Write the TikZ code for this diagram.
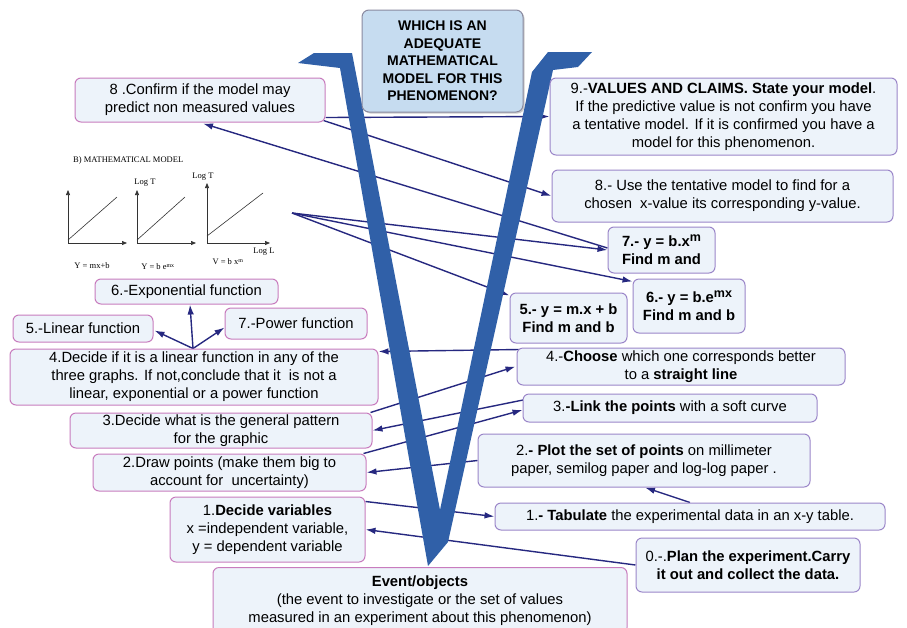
\documentclass[tikz,border=0pt]{standalone}
\usepackage{fontspec}
\setmainfont{Liberation Sans}
\newfontfamily\graphserif{Liberation Serif}
\usetikzlibrary{arrows.meta,calc,shadows}
\pgfdeclarelayer{connlayer}
\pgfdeclarelayer{vlayer}
\pgfsetlayers{connlayer,vlayer,main}
\definecolor{navy}{RGB}{38,40,128}
\definecolor{vblue}{RGB}{48,96,168}
\definecolor{boxfill}{RGB}{237,243,250}
\definecolor{lborder}{RGB}{200,124,190}
\definecolor{rborder}{RGB}{155,134,201}
\definecolor{qfill}{RGB}{198,220,240}
\definecolor{qborder}{RGB}{138,138,160}
\newcommand\bodytext{\fontsize{14.8}{18}\selectfont}
\newcommand\gtext{\graphserif\fontsize{8.5}{9}\selectfont}
\newcommand\supm[1]{\raisebox{5pt}{\fontsize{12.5}{12.5}\selectfont #1}}
\tikzset{
  basebox/.style={fill=boxfill, rounded corners=6pt, line width=1pt, inner sep=0pt, align=center, font=\bodytext},
  lbox/.style={basebox, draw=lborder},
  rbox/.style={basebox, draw=rborder},
  qbox/.style={draw=qborder, fill=qfill, rounded corners=7pt, line width=1pt, inner sep=0pt, align=center,
    font=\fontsize{14}{17.5}\selectfont\bfseries, drop shadow={shadow xshift=1.5pt, shadow yshift=-1.5pt, opacity=0.4}},
  conn/.style={draw=navy, line width=1.4pt, -{Latex[length=10pt,width=6.5pt]}},
  axis/.style={draw=black!80, line width=0.7pt, -{Triangle[length=5pt,width=4pt]}},
  gline/.style={draw=black!80, line width=0.6pt},
  glabel/.style={font=\gtext, inner sep=0pt}
}
\begin{document}
\begin{tikzpicture}[x=1pt,y=-1pt]
\useasboundingbox (0,0) rectangle (907,627);
\clip (0,0) rectangle (907,627);

% ---- boxes ----
\node[qbox, minimum width=161pt, minimum height=102pt] (Q) at (442.5,61) {WHICH IS AN\\ADEQUATE\\MATHEMATICAL\\MODEL FOR THIS\\PHENOMENON?};
\node[lbox, minimum width=250pt, minimum height=44pt] (B8L) at (200,100) {8 .Confirm if the model may\\predict non measured values};
\node[rbox, minimum width=347pt, minimum height=77pt] (B9R) at (723.5,116.5) {9.-\textbf{VALUES AND CLAIMS. State your model}.\\ If the predictive value is not confirm you have\\a tentative model. If it is confirmed you have a\\model for this phenomenon.};
\node[rbox, minimum width=341pt, minimum height=52pt] (B8R) at (722.5,196) {8.- Use the tentative model to find for a\\chosen\ \ x-value its corresponding y-value.};
\node[rbox, minimum width=107pt, minimum height=46pt, font=\bodytext\bfseries] (B7R) at (661.5,250) {7.- y = b.x\supm{m}\\Find m and};
\node[rbox, minimum width=112pt, minimum height=54pt, font=\bodytext\bfseries] (B6R) at (689,306) {6.- y = b.e\supm{mx}\\Find m and b};
\node[rbox, minimum width=117pt, minimum height=50pt, font=\bodytext\bfseries] (B5R) at (568.5,318) {5.- y = m.x + b\\Find m and b};
\node[lbox, minimum width=183pt, minimum height=25pt] (B6L) at (186.5,291.5) {6.-Exponential function};
\node[lbox, minimum width=140pt, minimum height=27pt] (B5L) at (83,328.5) {5.-Linear function};
\node[lbox, minimum width=142pt, minimum height=31pt] (B7L) at (296,323.5) {7.-Power function};
\node[lbox, minimum width=368pt, minimum height=56pt] (B4L) at (194,377) {4.Decide if it is a linear function in any of the\\three graphs. If not,conclude that it\ \ is not a\\linear, exponential or a power function};
\node[rbox, minimum width=328pt, minimum height=37pt] (B4R) at (681,366.5) {4.-\textbf{Choose} which one corresponds better\\to a \textbf{straight line}};
\node[rbox, minimum width=294pt, minimum height=28pt] (B3R) at (670,408) {3.\textbf{-Link the points} with a soft curve};
\node[rbox, minimum width=332pt, minimum height=53pt] (B2R) at (644,460.5) {2.\textbf{- Plot the set of points} on millimeter\\paper, semilog paper and log-log paper .};
\node[rbox, minimum width=390pt, minimum height=27pt] (B1R) at (690,516.5) {1.\textbf{- Tabulate} the experimental data in an x-y table.};
\node[rbox, minimum width=224pt, minimum height=54pt] (B0R) at (748,565) {0.-.\textbf{Plan the experiment.Carry}\\\textbf{it out and collect the data.}};
\node[lbox, minimum width=302pt, minimum height=35pt] (B3L) at (221,430.5) {3.Decide what is the general pattern\\for the graphic};
\node[lbox, minimum width=273pt, minimum height=37pt] (B2L) at (229.5,472.5) {2.Draw points (make them big to\\account for\ \ uncertainty)};
\node[lbox, minimum width=195pt, minimum height=65pt] (B1L) at (267.5,529.5) {1.\textbf{Decide variables}\\x =independent variable,\\y = dependent variable};
\node[lbox, minimum width=414pt, minimum height=66pt, anchor=north] (EV) at (420,567) {\textbf{Event/objects}\\(the event to investigate or the set of values\\measured in an experiment about this phenomenon)};

% ---- graphs ----
\node[glabel, anchor=west] (GT) at (73,160) {B) MATHEMATICAL MODEL};
\draw[axis] (68,243) -- (68,190);
\draw[axis] (68,243) -- (127,243);
\draw[gline] (68,240) -- (117,197);
\node[glabel] (GA) at (92,266) {Y = mx+b};
\draw[axis] (137,243) -- (137,190);
\draw[axis] (137,243) -- (196,243);
\draw[gline] (137,240) -- (185,197);
\node[glabel] (GB) at (145,183) {Log T};
\node[glabel] (GC) at (158,267) {Y = b e\textsuperscript{mx}};
\draw[axis] (207,243) -- (207,183);
\draw[axis] (207,243) -- (270,243);
\draw[gline] (207,236) -- (263,193);
\node[glabel] (GD) at (203,177) {Log T};
\node[glabel] (GE) at (264,252) {Log L};
\node[glabel] (GF) at (228,262) {V = b x\textsuperscript{m}};
\coordinate (G) at (292,213);

% ---- the V ----
\begin{pgfonlayer}{vlayer}
\fill[vblue] (428,566) -- (340,68) -- (298,63) -- (314,53) -- (352,53) -- (440,510)
  -- (532,72) -- (548,52) -- (592,52) -- (578,67) -- (553,70) -- (448,542) -- cycle;
\end{pgfonlayer}

% ---- connectors ----
\begin{pgfonlayer}{connlayer}
\fill[white] (0,0) rectangle (907,627);
\draw[conn] ($(B8L.south east)+(0,-5)$) -- ($(B9R.north west)+(0,39)$);
\draw[conn] ($(B8L.south east)+(-2,-2)$) -- (B8R.west);
\draw[conn] ($(B7R.west)+(0,-2)$) -- ($(B8L.south)+(3,1)$);
\draw[conn] (G) -- (B7R.west);
\draw[conn] (G) -- ($(B6R.north west)+(0,3)$);
\draw[conn] (G) -- ($(B5R.north west)+(0,3)$);
\draw[conn] ($(B4R.north west)+(3,2)$) -- ($(B4L.north east)+(0,3)$);
\draw[conn] ($(B3L.north east)+(-2,0)$) -- ($(B4R.west)+(-1,0)$);
\draw[conn] ($(B3R.north west)+(3,6)$) -- (B3L.east);
\draw[conn] ($(B2L.north east)+(-3,0)$) -- ($(B3R.west)+(0,2)$);
\draw[conn] (B2R.west) -- (B2L.east);
\draw[conn] ($(B1L.north east)+(0,5)$) -- (B1R.west);
\draw[conn] (B0R.west) -- (B1L.east);
\draw[conn] (B1R.north) -- ($(B2R.south)+(1,0)$);
\draw[conn] ($(B4L.north)+(-1,0)$) -- ($(B5L.east)+(1,2)$);
\draw[conn] ($(B4L.north)+(-1,0)$) -- ($(B6L.south)+(3.5,0)$);
\draw[conn] ($(B4L.north)+(-1,0)$) -- ($(B7L.west)+(0,4)$);
\end{pgfonlayer}
\end{tikzpicture}
\end{document}
